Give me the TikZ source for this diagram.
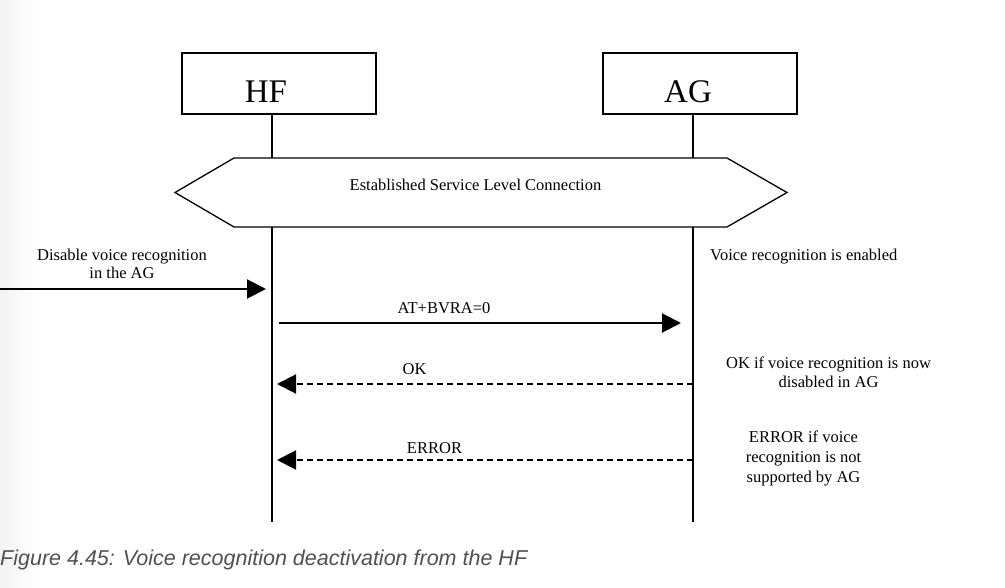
\documentclass[tikz,border=0pt]{standalone}
\usepackage{fontspec}
\setmainfont{Liberation Serif}
\newfontfamily\capfont{Liberation Sans}
\usetikzlibrary{arrows.meta,calc}
\definecolor{capgray}{RGB}{80,80,80}
\begin{document}
\begin{tikzpicture}[x=1pt,y=-1pt,
  entity/.style={draw,line width=1.3pt,minimum width=194pt,minimum height=61pt,inner sep=0pt},
  bigtxt/.style={font=\fontsize{33}{36}\selectfont,inner sep=0pt,anchor=base},
  txt/.style={font=\fontsize{16.5}{18.5}\selectfont,inner sep=0pt,anchor=base,align=center},
  lifeline/.style={line width=2pt},
  msg/.style={line width=2pt,-{Triangle[length=19pt,width=19pt]}},
  reply/.style={msg,dash pattern=on 6pt off 4pt}]
\useasboundingbox (0,0) rectangle (1005,588);
\shade[left color=black!5,right color=white] (0,0) rectangle (35,588);
% entities
\node[entity] (hf) at (279,83.5) {};
\node[entity] (ag) at (700,83.5) {};
\node[bigtxt] (hft) at (266,103) {HF};
\node[bigtxt] (agt) at (688,103) {AG};
% lifelines
\coordinate (hftop) at (272,114);
\coordinate (hfbot) at (272,522);
\coordinate (agtop) at (693,114);
\coordinate (agbot) at (693,522);
\draw[lifeline] (hftop) -- (hfbot);
\draw[lifeline] (agtop) -- (agbot);
% service level connection
\coordinate (s1) at (175,192.5);
\coordinate (s2) at (234,158);
\coordinate (s3) at (727,158);
\coordinate (s4) at (787,192.5);
\coordinate (s5) at (727,227);
\coordinate (s6) at (234,227);
\filldraw[fill=white,line width=1.3pt] (s1) -- (s2) -- (s3) -- (s4) -- (s5) -- (s6) -- cycle;
\node[txt] (slc) at (475.5,191) {Established Service Level Connection};
% external trigger
\coordinate (ext) at (0,289);
\coordinate (hfin) at (266,289);
\draw[msg] (ext) -- (hfin);
\node[txt] (dis) at (122,279) {Disable voice recognition\\in the AG};
\node[txt,anchor=base west] (en) at (710,261) {Voice recognition is enabled};
% AT+BVRA=0
\coordinate (m1a) at (279,323);
\coordinate (m1b) at (681,323);
\draw[msg] (m1a) -- (m1b);
\node[txt] (m1t) at (444,314) {AT+BVRA=0};
% OK
\coordinate (m2a) at (693,384);
\coordinate (m2b) at (277,384);
\draw[reply] (m2a) -- (m2b);
\node[txt] (m2t) at (414.5,374) {OK};
\node[txt] (m2n) at (828.5,387) {OK if voice recognition is now\\disabled in AG};
% ERROR
\coordinate (m3a) at (693,460);
\coordinate (m3b) at (277,460);
\draw[reply] (m3a) -- (m3b);
\node[txt] (m3t) at (434.5,453) {ERROR};
\node[txt,font=\fontsize{16.5}{20}\selectfont] (m3n) at (803.5,482) {ERROR if voice\\recognition is not\\supported by AG};
% caption
\node[font=\capfont\itshape\fontsize{21.5}{24}\selectfont,text=capgray,inner sep=0pt,anchor=base west] (cap) at (0,565) {Figure 4.45: Voice recognition deactivation from the HF};
\end{tikzpicture}
\end{document}
